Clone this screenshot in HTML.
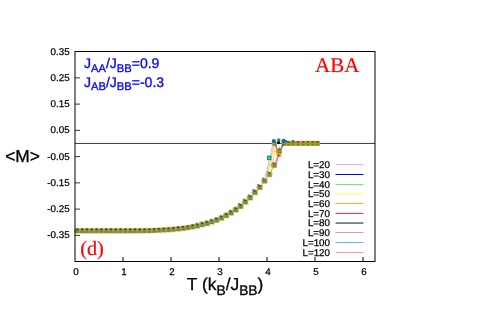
<!DOCTYPE html>
<html><head><meta charset="utf-8"><title>chart</title>
<style>
html,body{margin:0;padding:0;background:#fff;}
body{width:500px;height:314px;overflow:hidden;}
text{text-rendering:geometricPrecision;}
.t{stroke:#000;stroke-width:0.25px;}
.b{stroke:#0000ff;stroke-width:0.3px;}
.k{stroke:#000;stroke-width:0.3px;}
.r{stroke:#ff0000;stroke-width:0.2px;}
svg{display:block;font-family:"Liberation Sans",sans-serif;will-change:transform;}
</style></head><body>
<svg width="500" height="314" viewBox="0 0 500 314">
<line x1="75" y1="143.45" x2="375" y2="143.45" stroke="#3a3a3a" stroke-width="1"/>
<text x="330" y="168.10" font-size="9.8" class="t" text-anchor="end" fill="#000">L=20</text>
<line x1="335.5" y1="164.50" x2="363.5" y2="164.50" stroke="#f4a4f4" stroke-width="1"/>
<text x="330" y="177.83" font-size="9.8" class="t" text-anchor="end" fill="#000">L=30</text>
<line x1="335.5" y1="174.50" x2="363.5" y2="174.50" stroke="#0000ff" stroke-width="1"/>
<text x="330" y="187.56" font-size="9.8" class="t" text-anchor="end" fill="#000">L=40</text>
<line x1="335.5" y1="184.50" x2="363.5" y2="184.50" stroke="#6cf06c" stroke-width="1"/>
<text x="330" y="197.29" font-size="9.8" class="t" text-anchor="end" fill="#000">L=50</text>
<line x1="335.5" y1="194.00" x2="363.5" y2="194.00" stroke="#ffff50" stroke-width="1"/>
<text x="330" y="207.02" font-size="9.8" class="t" text-anchor="end" fill="#000">L=60</text>
<line x1="335.5" y1="203.50" x2="363.5" y2="203.50" stroke="#ffac28" stroke-width="1"/>
<text x="330" y="216.75" font-size="9.8" class="t" text-anchor="end" fill="#000">L=70</text>
<line x1="335.5" y1="213.40" x2="363.5" y2="213.40" stroke="#ff2020" stroke-width="1"/>
<text x="330" y="226.48" font-size="9.8" class="t" text-anchor="end" fill="#000">L=80</text>
<line x1="335.5" y1="223.05" x2="363.5" y2="223.05" stroke="#1c1c1c" stroke-width="1"/>
<text x="330" y="236.21" font-size="9.8" class="t" text-anchor="end" fill="#000">L=90</text>
<line x1="335.5" y1="232.50" x2="363.5" y2="232.50" stroke="#e896b6" stroke-width="1"/>
<text x="330" y="245.94" font-size="9.8" class="t" text-anchor="end" fill="#000">L=100</text>
<line x1="335.5" y1="242.50" x2="363.5" y2="242.50" stroke="#58bef2" stroke-width="1"/>
<text x="330" y="255.67" font-size="9.8" class="t" text-anchor="end" fill="#000">L=120</text>
<line x1="335.5" y1="252.50" x2="363.5" y2="252.50" stroke="#f09aa4" stroke-width="1"/>
<path d="M74.95 228.22H79.85M74.95 233.47H79.85" stroke="#f3d898" stroke-width="0.6" fill="none"/>
<rect x="74.95" y="228.52" width="4.9" height="4.7" fill="#b89c28"/>
<rect x="75.40" y="229.37" width="4.0" height="3.4" fill="#379c58"/>
<rect x="76.10" y="230.77" width="2.6" height="1.1" fill="#3a9a8a"/>
<ellipse cx="77.40" cy="229.17" rx="1.3" ry="0.85" fill="#26591c"/>
<path d="M74.95 228.47V233.27M79.85 228.47V233.27" stroke="#e2a412" stroke-width="0.7" fill="none"/>
<ellipse cx="74.95" cy="230.77" rx="1.1" ry="0.9" fill="#e9823c"/>
<path d="M79.75 228.22H84.65M79.75 233.47H84.65" stroke="#f3d898" stroke-width="0.6" fill="none"/>
<rect x="79.75" y="228.52" width="4.9" height="4.7" fill="#b89c28"/>
<rect x="80.20" y="229.37" width="4.0" height="3.4" fill="#379c58"/>
<rect x="80.90" y="230.77" width="2.6" height="1.1" fill="#3a9a8a"/>
<ellipse cx="82.20" cy="229.17" rx="1.3" ry="0.85" fill="#26591c"/>
<path d="M79.75 228.47V233.27M84.65 228.47V233.27" stroke="#e2a412" stroke-width="0.7" fill="none"/>
<ellipse cx="79.75" cy="230.77" rx="1.1" ry="0.9" fill="#e9823c"/>
<path d="M84.55 228.22H89.45M84.55 233.47H89.45" stroke="#f3d898" stroke-width="0.6" fill="none"/>
<rect x="84.55" y="228.52" width="4.9" height="4.7" fill="#b89c28"/>
<rect x="85.00" y="229.37" width="4.0" height="3.4" fill="#379c58"/>
<rect x="85.70" y="230.77" width="2.6" height="1.1" fill="#3a9a8a"/>
<ellipse cx="87.00" cy="229.17" rx="1.3" ry="0.85" fill="#26591c"/>
<path d="M84.55 228.47V233.27M89.45 228.47V233.27" stroke="#e2a412" stroke-width="0.7" fill="none"/>
<ellipse cx="84.55" cy="230.77" rx="1.1" ry="0.9" fill="#e9823c"/>
<path d="M89.35 228.22H94.25M89.35 233.47H94.25" stroke="#f3d898" stroke-width="0.6" fill="none"/>
<rect x="89.35" y="228.52" width="4.9" height="4.7" fill="#b89c28"/>
<rect x="89.80" y="229.37" width="4.0" height="3.4" fill="#379c58"/>
<rect x="90.50" y="230.77" width="2.6" height="1.1" fill="#3a9a8a"/>
<ellipse cx="91.80" cy="229.17" rx="1.3" ry="0.85" fill="#26591c"/>
<path d="M89.35 228.47V233.27M94.25 228.47V233.27" stroke="#e2a412" stroke-width="0.7" fill="none"/>
<ellipse cx="89.35" cy="230.77" rx="1.1" ry="0.9" fill="#e9823c"/>
<path d="M94.15 228.22H99.05M94.15 233.47H99.05" stroke="#f3d898" stroke-width="0.6" fill="none"/>
<rect x="94.15" y="228.52" width="4.9" height="4.7" fill="#b89c28"/>
<rect x="94.60" y="229.37" width="4.0" height="3.4" fill="#379c58"/>
<rect x="95.30" y="230.77" width="2.6" height="1.1" fill="#3a9a8a"/>
<ellipse cx="96.60" cy="229.17" rx="1.3" ry="0.85" fill="#26591c"/>
<path d="M94.15 228.47V233.27M99.05 228.47V233.27" stroke="#e2a412" stroke-width="0.7" fill="none"/>
<ellipse cx="94.15" cy="230.77" rx="1.1" ry="0.9" fill="#e9823c"/>
<path d="M98.95 228.22H103.85M98.95 233.47H103.85" stroke="#f3d898" stroke-width="0.6" fill="none"/>
<rect x="98.95" y="228.52" width="4.9" height="4.7" fill="#b89c28"/>
<rect x="99.40" y="229.37" width="4.0" height="3.4" fill="#379c58"/>
<rect x="100.10" y="230.77" width="2.6" height="1.1" fill="#3a9a8a"/>
<ellipse cx="101.40" cy="229.17" rx="1.3" ry="0.85" fill="#26591c"/>
<path d="M98.95 228.47V233.27M103.85 228.47V233.27" stroke="#e2a412" stroke-width="0.7" fill="none"/>
<ellipse cx="98.95" cy="230.77" rx="1.1" ry="0.9" fill="#e9823c"/>
<path d="M103.75 228.22H108.65M103.75 233.47H108.65" stroke="#f3d898" stroke-width="0.6" fill="none"/>
<rect x="103.75" y="228.52" width="4.9" height="4.7" fill="#b89c28"/>
<rect x="104.20" y="229.37" width="4.0" height="3.4" fill="#379c58"/>
<rect x="104.90" y="230.77" width="2.6" height="1.1" fill="#3a9a8a"/>
<ellipse cx="106.20" cy="229.17" rx="1.3" ry="0.85" fill="#26591c"/>
<path d="M103.75 228.47V233.27M108.65 228.47V233.27" stroke="#e2a412" stroke-width="0.7" fill="none"/>
<ellipse cx="103.75" cy="230.77" rx="1.1" ry="0.9" fill="#e9823c"/>
<path d="M108.55 228.22H113.45M108.55 233.47H113.45" stroke="#f3d898" stroke-width="0.6" fill="none"/>
<rect x="108.55" y="228.52" width="4.9" height="4.7" fill="#b89c28"/>
<rect x="109.00" y="229.37" width="4.0" height="3.4" fill="#379c58"/>
<rect x="109.70" y="230.77" width="2.6" height="1.1" fill="#3a9a8a"/>
<ellipse cx="111.00" cy="229.17" rx="1.3" ry="0.85" fill="#26591c"/>
<path d="M108.55 228.47V233.27M113.45 228.47V233.27" stroke="#e2a412" stroke-width="0.7" fill="none"/>
<ellipse cx="108.55" cy="230.77" rx="1.1" ry="0.9" fill="#e9823c"/>
<path d="M113.35 228.22H118.25M113.35 233.47H118.25" stroke="#f3d898" stroke-width="0.6" fill="none"/>
<rect x="113.35" y="228.52" width="4.9" height="4.7" fill="#b89c28"/>
<rect x="113.80" y="229.37" width="4.0" height="3.4" fill="#379c58"/>
<rect x="114.50" y="230.77" width="2.6" height="1.1" fill="#3a9a8a"/>
<ellipse cx="115.80" cy="229.17" rx="1.3" ry="0.85" fill="#26591c"/>
<path d="M113.35 228.47V233.27M118.25 228.47V233.27" stroke="#e2a412" stroke-width="0.7" fill="none"/>
<ellipse cx="113.35" cy="230.77" rx="1.1" ry="0.9" fill="#e9823c"/>
<path d="M118.15 228.22H123.05M118.15 233.47H123.05" stroke="#f3d898" stroke-width="0.6" fill="none"/>
<rect x="118.15" y="228.52" width="4.9" height="4.7" fill="#b89c28"/>
<rect x="118.60" y="229.37" width="4.0" height="3.4" fill="#379c58"/>
<rect x="119.30" y="230.77" width="2.6" height="1.1" fill="#3a9a8a"/>
<ellipse cx="120.60" cy="229.17" rx="1.3" ry="0.85" fill="#26591c"/>
<path d="M118.15 228.47V233.27M123.05 228.47V233.27" stroke="#e2a412" stroke-width="0.7" fill="none"/>
<ellipse cx="118.15" cy="230.77" rx="1.1" ry="0.9" fill="#e9823c"/>
<path d="M122.95 228.22H127.85M122.95 233.47H127.85" stroke="#f3d898" stroke-width="0.6" fill="none"/>
<rect x="122.95" y="228.52" width="4.9" height="4.7" fill="#b89c28"/>
<rect x="123.40" y="229.37" width="4.0" height="3.4" fill="#379c58"/>
<rect x="124.10" y="230.77" width="2.6" height="1.1" fill="#3a9a8a"/>
<ellipse cx="125.40" cy="229.17" rx="1.3" ry="0.85" fill="#26591c"/>
<path d="M122.95 228.47V233.27M127.85 228.47V233.27" stroke="#e2a412" stroke-width="0.7" fill="none"/>
<ellipse cx="122.95" cy="230.77" rx="1.1" ry="0.9" fill="#e9823c"/>
<path d="M127.75 228.22H132.65M127.75 233.47H132.65" stroke="#f3d898" stroke-width="0.6" fill="none"/>
<rect x="127.75" y="228.52" width="4.9" height="4.7" fill="#b89c28"/>
<rect x="128.20" y="229.37" width="4.0" height="3.4" fill="#379c58"/>
<rect x="128.90" y="230.77" width="2.6" height="1.1" fill="#3a9a8a"/>
<ellipse cx="130.20" cy="229.17" rx="1.3" ry="0.85" fill="#26591c"/>
<path d="M127.75 228.47V233.27M132.65 228.47V233.27" stroke="#e2a412" stroke-width="0.7" fill="none"/>
<ellipse cx="127.75" cy="230.77" rx="1.1" ry="0.9" fill="#e9823c"/>
<path d="M132.55 228.22H137.45M132.55 233.47H137.45" stroke="#f3d898" stroke-width="0.6" fill="none"/>
<rect x="132.55" y="228.52" width="4.9" height="4.7" fill="#b89c28"/>
<rect x="133.00" y="229.37" width="4.0" height="3.4" fill="#379c58"/>
<rect x="133.70" y="230.77" width="2.6" height="1.1" fill="#3a9a8a"/>
<ellipse cx="135.00" cy="229.17" rx="1.3" ry="0.85" fill="#26591c"/>
<path d="M132.55 228.47V233.27M137.45 228.47V233.27" stroke="#e2a412" stroke-width="0.7" fill="none"/>
<ellipse cx="132.55" cy="230.77" rx="1.1" ry="0.9" fill="#e9823c"/>
<path d="M137.35 228.18H142.25M137.35 233.43H142.25" stroke="#f3d898" stroke-width="0.6" fill="none"/>
<rect x="137.35" y="228.48" width="4.9" height="4.7" fill="#b89c28"/>
<rect x="137.80" y="229.33" width="4.0" height="3.4" fill="#379c58"/>
<rect x="138.50" y="230.73" width="2.6" height="1.1" fill="#3a9a8a"/>
<ellipse cx="139.80" cy="229.13" rx="1.3" ry="0.85" fill="#26591c"/>
<path d="M137.35 228.43V233.23M142.25 228.43V233.23" stroke="#e2a412" stroke-width="0.7" fill="none"/>
<ellipse cx="137.35" cy="230.73" rx="1.1" ry="0.9" fill="#e9823c"/>
<path d="M142.15 228.11H147.05M142.15 233.36H147.05" stroke="#f3d898" stroke-width="0.6" fill="none"/>
<rect x="142.15" y="228.41" width="4.9" height="4.7" fill="#b89c28"/>
<rect x="142.60" y="229.26" width="4.0" height="3.4" fill="#379c58"/>
<rect x="143.30" y="230.66" width="2.6" height="1.1" fill="#3a9a8a"/>
<ellipse cx="144.60" cy="229.06" rx="1.3" ry="0.85" fill="#26591c"/>
<path d="M142.15 228.36V233.16M147.05 228.36V233.16" stroke="#e2a412" stroke-width="0.7" fill="none"/>
<ellipse cx="142.15" cy="230.66" rx="1.1" ry="0.9" fill="#e9823c"/>
<path d="M146.95 228.04H151.85M146.95 233.29H151.85" stroke="#f3d898" stroke-width="0.6" fill="none"/>
<rect x="146.95" y="228.34" width="4.9" height="4.7" fill="#b89c28"/>
<rect x="147.40" y="229.19" width="4.0" height="3.4" fill="#379c58"/>
<rect x="148.10" y="230.59" width="2.6" height="1.1" fill="#3a9a8a"/>
<ellipse cx="149.40" cy="228.99" rx="1.3" ry="0.85" fill="#26591c"/>
<path d="M146.95 228.29V233.09M151.85 228.29V233.09" stroke="#e2a412" stroke-width="0.7" fill="none"/>
<ellipse cx="146.95" cy="230.59" rx="1.1" ry="0.9" fill="#e9823c"/>
<path d="M151.75 227.88H156.65M151.75 233.13H156.65" stroke="#f3d898" stroke-width="0.6" fill="none"/>
<rect x="151.75" y="228.18" width="4.9" height="4.7" fill="#b89c28"/>
<rect x="152.20" y="229.03" width="4.0" height="3.4" fill="#379c58"/>
<rect x="152.90" y="230.43" width="2.6" height="1.1" fill="#3a9a8a"/>
<ellipse cx="154.20" cy="228.83" rx="1.3" ry="0.85" fill="#26591c"/>
<path d="M151.75 228.13V232.93M156.65 228.13V232.93" stroke="#e2a412" stroke-width="0.7" fill="none"/>
<ellipse cx="151.75" cy="230.43" rx="1.1" ry="0.9" fill="#e9823c"/>
<path d="M156.55 227.62H161.45M156.55 232.87H161.45" stroke="#f3d898" stroke-width="0.6" fill="none"/>
<rect x="156.55" y="227.92" width="4.9" height="4.7" fill="#b89c28"/>
<rect x="157.00" y="228.77" width="4.0" height="3.4" fill="#379c58"/>
<rect x="157.70" y="230.17" width="2.6" height="1.1" fill="#3a9a8a"/>
<ellipse cx="159.00" cy="228.57" rx="1.3" ry="0.85" fill="#26591c"/>
<path d="M156.55 227.87V232.67M161.45 227.87V232.67" stroke="#e2a412" stroke-width="0.7" fill="none"/>
<ellipse cx="156.55" cy="230.17" rx="1.1" ry="0.9" fill="#e9823c"/>
<path d="M161.35 227.37H166.25M161.35 232.62H166.25" stroke="#f3d898" stroke-width="0.6" fill="none"/>
<rect x="161.35" y="227.67" width="4.9" height="4.7" fill="#b89c28"/>
<rect x="161.80" y="228.52" width="4.0" height="3.4" fill="#379c58"/>
<rect x="162.50" y="229.92" width="2.6" height="1.1" fill="#3a9a8a"/>
<ellipse cx="163.80" cy="228.32" rx="1.3" ry="0.85" fill="#26591c"/>
<path d="M161.35 227.62V232.42M166.25 227.62V232.42" stroke="#e2a412" stroke-width="0.7" fill="none"/>
<ellipse cx="161.35" cy="229.92" rx="1.1" ry="0.9" fill="#e9823c"/>
<path d="M166.15 227.11H171.05M166.15 232.36H171.05" stroke="#f3d898" stroke-width="0.6" fill="none"/>
<rect x="166.15" y="227.41" width="4.9" height="4.7" fill="#b89c28"/>
<rect x="166.60" y="228.26" width="4.0" height="3.4" fill="#379c58"/>
<rect x="167.30" y="229.66" width="2.6" height="1.1" fill="#3a9a8a"/>
<ellipse cx="168.60" cy="228.06" rx="1.3" ry="0.85" fill="#26591c"/>
<path d="M166.15 227.36V232.16M171.05 227.36V232.16" stroke="#e2a412" stroke-width="0.7" fill="none"/>
<ellipse cx="166.15" cy="229.66" rx="1.1" ry="0.9" fill="#e9823c"/>
<path d="M170.95 226.70H175.85M170.95 231.95H175.85" stroke="#f3d898" stroke-width="0.6" fill="none"/>
<rect x="170.95" y="227.00" width="4.9" height="4.7" fill="#b89c28"/>
<rect x="171.40" y="227.85" width="4.0" height="3.4" fill="#379c58"/>
<rect x="172.10" y="229.25" width="2.6" height="1.1" fill="#3a9a8a"/>
<ellipse cx="173.40" cy="227.65" rx="1.3" ry="0.85" fill="#26591c"/>
<path d="M170.95 226.95V231.75M175.85 226.95V231.75" stroke="#e2a412" stroke-width="0.7" fill="none"/>
<ellipse cx="170.95" cy="229.25" rx="1.1" ry="0.9" fill="#e9823c"/>
<path d="M175.75 226.23H180.65M175.75 231.48H180.65" stroke="#f3d898" stroke-width="0.6" fill="none"/>
<rect x="175.75" y="226.53" width="4.9" height="4.7" fill="#b89c28"/>
<rect x="176.20" y="227.38" width="4.0" height="3.4" fill="#379c58"/>
<rect x="176.90" y="228.78" width="2.6" height="1.1" fill="#3a9a8a"/>
<ellipse cx="178.20" cy="227.18" rx="1.3" ry="0.85" fill="#26591c"/>
<path d="M175.75 226.48V231.28M180.65 226.48V231.28" stroke="#e2a412" stroke-width="0.7" fill="none"/>
<ellipse cx="175.75" cy="228.78" rx="1.1" ry="0.9" fill="#e9823c"/>
<path d="M180.55 225.75H185.45M180.55 231.00H185.45" stroke="#f3d898" stroke-width="0.6" fill="none"/>
<rect x="180.55" y="226.05" width="4.9" height="4.7" fill="#b89c28"/>
<rect x="181.00" y="226.90" width="4.0" height="3.4" fill="#379c58"/>
<rect x="181.70" y="228.30" width="2.6" height="1.1" fill="#3a9a8a"/>
<ellipse cx="183.00" cy="226.70" rx="1.3" ry="0.85" fill="#26591c"/>
<path d="M180.55 226.00V230.80M185.45 226.00V230.80" stroke="#e2a412" stroke-width="0.7" fill="none"/>
<ellipse cx="180.55" cy="228.30" rx="1.1" ry="0.9" fill="#e9823c"/>
<path d="M185.35 225.07H190.25M185.35 230.32H190.25" stroke="#f3d898" stroke-width="0.6" fill="none"/>
<rect x="185.35" y="225.37" width="4.9" height="4.7" fill="#b89c28"/>
<rect x="185.80" y="226.22" width="4.0" height="3.4" fill="#379c58"/>
<rect x="186.50" y="227.62" width="2.6" height="1.1" fill="#3a9a8a"/>
<ellipse cx="187.80" cy="226.02" rx="1.3" ry="0.85" fill="#26591c"/>
<path d="M185.35 225.32V230.12M190.25 225.32V230.12" stroke="#e2a412" stroke-width="0.7" fill="none"/>
<ellipse cx="185.35" cy="227.62" rx="1.1" ry="0.9" fill="#e9823c"/>
<path d="M190.15 224.17H195.05M190.15 229.42H195.05" stroke="#f3d898" stroke-width="0.6" fill="none"/>
<rect x="190.15" y="224.47" width="4.9" height="4.7" fill="#b89c28"/>
<rect x="190.60" y="225.32" width="4.0" height="3.4" fill="#379c58"/>
<rect x="191.30" y="226.72" width="2.6" height="1.1" fill="#3a9a8a"/>
<ellipse cx="192.60" cy="225.12" rx="1.3" ry="0.85" fill="#26591c"/>
<path d="M190.15 224.42V229.22M195.05 224.42V229.22" stroke="#e2a412" stroke-width="0.7" fill="none"/>
<ellipse cx="190.15" cy="226.72" rx="1.1" ry="0.9" fill="#e9823c"/>
<path d="M194.95 223.28H199.85M194.95 228.53H199.85" stroke="#f3d898" stroke-width="0.6" fill="none"/>
<rect x="194.95" y="223.58" width="4.9" height="4.7" fill="#b89c28"/>
<rect x="195.40" y="224.43" width="4.0" height="3.4" fill="#379c58"/>
<rect x="196.10" y="225.83" width="2.6" height="1.1" fill="#3a9a8a"/>
<ellipse cx="197.40" cy="224.23" rx="1.3" ry="0.85" fill="#26591c"/>
<path d="M194.95 223.53V228.33M199.85 223.53V228.33" stroke="#e2a412" stroke-width="0.7" fill="none"/>
<ellipse cx="194.95" cy="225.83" rx="1.1" ry="0.9" fill="#e9823c"/>
<path d="M199.75 221.97H204.65M199.75 227.22H204.65" stroke="#f3d898" stroke-width="0.6" fill="none"/>
<rect x="199.75" y="222.27" width="4.9" height="4.7" fill="#b89c28"/>
<rect x="200.20" y="223.12" width="4.0" height="3.4" fill="#379c58"/>
<rect x="200.90" y="224.52" width="2.6" height="1.1" fill="#3a9a8a"/>
<ellipse cx="202.20" cy="222.92" rx="1.3" ry="0.85" fill="#26591c"/>
<path d="M199.75 222.22V227.02M204.65 222.22V227.02" stroke="#e2a412" stroke-width="0.7" fill="none"/>
<ellipse cx="199.75" cy="224.52" rx="1.1" ry="0.9" fill="#e9823c"/>
<path d="M204.55 220.84H209.45M204.55 226.09H209.45" stroke="#f3d898" stroke-width="0.6" fill="none"/>
<rect x="204.55" y="221.14" width="4.9" height="4.7" fill="#b89c28"/>
<rect x="205.00" y="221.99" width="4.0" height="3.4" fill="#379c58"/>
<rect x="205.70" y="223.39" width="2.6" height="1.1" fill="#3a9a8a"/>
<ellipse cx="207.00" cy="221.79" rx="1.3" ry="0.85" fill="#26591c"/>
<path d="M204.55 221.09V225.89M209.45 221.09V225.89" stroke="#e2a412" stroke-width="0.7" fill="none"/>
<ellipse cx="204.55" cy="223.39" rx="1.1" ry="0.9" fill="#e9823c"/>
<path d="M209.35 219.29H214.25M209.35 224.54H214.25" stroke="#f3d898" stroke-width="0.6" fill="none"/>
<rect x="209.35" y="219.59" width="4.9" height="4.7" fill="#b89c28"/>
<rect x="209.80" y="220.44" width="4.0" height="3.4" fill="#379c58"/>
<rect x="210.50" y="221.84" width="2.6" height="1.1" fill="#3a9a8a"/>
<ellipse cx="211.80" cy="220.24" rx="1.3" ry="0.85" fill="#26591c"/>
<path d="M209.35 219.54V224.34M214.25 219.54V224.34" stroke="#e2a412" stroke-width="0.7" fill="none"/>
<ellipse cx="209.35" cy="221.84" rx="1.1" ry="0.9" fill="#e9823c"/>
<path d="M214.15 217.56H219.05M214.15 222.81H219.05" stroke="#f3d898" stroke-width="0.6" fill="none"/>
<rect x="214.15" y="217.86" width="4.9" height="4.7" fill="#b89c28"/>
<rect x="214.60" y="218.71" width="4.0" height="3.4" fill="#379c58"/>
<rect x="215.30" y="220.11" width="2.6" height="1.1" fill="#3a9a8a"/>
<ellipse cx="216.60" cy="218.51" rx="1.3" ry="0.85" fill="#26591c"/>
<path d="M214.15 217.81V222.61M219.05 217.81V222.61" stroke="#e2a412" stroke-width="0.7" fill="none"/>
<ellipse cx="214.15" cy="220.11" rx="1.1" ry="0.9" fill="#e9823c"/>
<path d="M218.95 215.54H223.85M218.95 220.79H223.85" stroke="#f3d898" stroke-width="0.6" fill="none"/>
<rect x="218.95" y="215.84" width="4.9" height="4.7" fill="#b89c28"/>
<rect x="219.40" y="216.69" width="4.0" height="3.4" fill="#379c58"/>
<rect x="220.10" y="218.09" width="2.6" height="1.1" fill="#3a9a8a"/>
<ellipse cx="221.40" cy="216.49" rx="1.3" ry="0.85" fill="#26591c"/>
<path d="M218.95 215.79V220.59M223.85 215.79V220.59" stroke="#e2a412" stroke-width="0.7" fill="none"/>
<ellipse cx="218.95" cy="218.09" rx="1.1" ry="0.9" fill="#e9823c"/>
<path d="M223.75 212.97H228.65M223.75 218.22H228.65" stroke="#f3d898" stroke-width="0.6" fill="none"/>
<rect x="223.75" y="213.27" width="4.9" height="4.7" fill="#b89c28"/>
<rect x="224.20" y="214.12" width="4.0" height="3.4" fill="#379c58"/>
<rect x="224.90" y="215.52" width="2.6" height="1.1" fill="#3a9a8a"/>
<ellipse cx="226.20" cy="213.92" rx="1.3" ry="0.85" fill="#26591c"/>
<path d="M223.75 213.22V218.02M228.65 213.22V218.02" stroke="#e2a412" stroke-width="0.7" fill="none"/>
<ellipse cx="223.75" cy="215.52" rx="1.1" ry="0.9" fill="#e9823c"/>
<path d="M228.55 210.34H233.45M228.55 215.59H233.45" stroke="#f3d898" stroke-width="0.6" fill="none"/>
<rect x="228.55" y="210.64" width="4.9" height="4.7" fill="#b89c28"/>
<rect x="229.00" y="211.49" width="4.0" height="3.4" fill="#379c58"/>
<rect x="229.70" y="212.89" width="2.6" height="1.1" fill="#3a9a8a"/>
<ellipse cx="231.00" cy="211.29" rx="1.3" ry="0.85" fill="#26591c"/>
<path d="M228.55 210.59V215.39M233.45 210.59V215.39" stroke="#e2a412" stroke-width="0.7" fill="none"/>
<ellipse cx="228.55" cy="212.89" rx="1.1" ry="0.9" fill="#e9823c"/>
<path d="M233.35 207.27H238.25M233.35 212.52H238.25" stroke="#f3d898" stroke-width="0.6" fill="none"/>
<rect x="233.35" y="207.57" width="4.9" height="4.7" fill="#b89c28"/>
<rect x="233.80" y="208.42" width="4.0" height="3.4" fill="#379c58"/>
<rect x="234.50" y="209.82" width="2.6" height="1.1" fill="#3a9a8a"/>
<ellipse cx="235.80" cy="208.22" rx="1.3" ry="0.85" fill="#26591c"/>
<path d="M233.35 207.52V212.32M238.25 207.52V212.32" stroke="#e2a412" stroke-width="0.7" fill="none"/>
<ellipse cx="233.35" cy="209.82" rx="1.1" ry="0.9" fill="#e9823c"/>
<path d="M238.15 203.72H243.05M238.15 208.97H243.05" stroke="#f3d898" stroke-width="0.6" fill="none"/>
<rect x="238.15" y="204.03" width="4.9" height="4.7" fill="#b89c28"/>
<rect x="238.60" y="204.88" width="4.0" height="3.4" fill="#379c58"/>
<rect x="239.30" y="206.28" width="2.6" height="1.1" fill="#3a9a8a"/>
<ellipse cx="240.60" cy="204.68" rx="1.3" ry="0.85" fill="#26591c"/>
<path d="M238.15 203.97V208.78M243.05 203.97V208.78" stroke="#e2a412" stroke-width="0.7" fill="none"/>
<ellipse cx="238.15" cy="206.28" rx="1.1" ry="0.9" fill="#e9823c"/>
<path d="M242.95 199.34H247.85M242.95 204.59H247.85" stroke="#f3d898" stroke-width="0.6" fill="none"/>
<rect x="242.95" y="199.64" width="4.9" height="4.7" fill="#b89c28"/>
<rect x="243.40" y="200.49" width="4.0" height="3.4" fill="#379c58"/>
<rect x="244.10" y="201.89" width="2.6" height="1.1" fill="#3a9a8a"/>
<ellipse cx="245.40" cy="200.29" rx="1.3" ry="0.85" fill="#26591c"/>
<path d="M242.95 199.59V204.39M247.85 199.59V204.39" stroke="#e2a412" stroke-width="0.7" fill="none"/>
<ellipse cx="242.95" cy="201.89" rx="1.1" ry="0.9" fill="#e9823c"/>
<path d="M247.75 195.17H252.65M247.75 200.42H252.65" stroke="#f3d898" stroke-width="0.6" fill="none"/>
<rect x="247.75" y="195.47" width="4.9" height="4.7" fill="#b89c28"/>
<rect x="248.20" y="196.32" width="4.0" height="3.4" fill="#379c58"/>
<rect x="248.90" y="197.72" width="2.6" height="1.1" fill="#3a9a8a"/>
<ellipse cx="250.20" cy="196.12" rx="1.3" ry="0.85" fill="#26591c"/>
<path d="M247.75 195.42V200.22M252.65 195.42V200.22" stroke="#e2a412" stroke-width="0.7" fill="none"/>
<ellipse cx="247.75" cy="197.72" rx="1.1" ry="0.9" fill="#e9823c"/>
<path d="M252.55 189.79H257.45M252.55 195.04H257.45" stroke="#f3d898" stroke-width="0.6" fill="none"/>
<rect x="252.55" y="190.09" width="4.9" height="4.7" fill="#b89c28"/>
<rect x="253.00" y="190.94" width="4.0" height="3.4" fill="#379c58"/>
<rect x="253.70" y="192.34" width="2.6" height="1.1" fill="#3a9a8a"/>
<ellipse cx="255.00" cy="190.74" rx="1.3" ry="0.85" fill="#26591c"/>
<path d="M252.55 190.04V194.84M257.45 190.04V194.84" stroke="#e2a412" stroke-width="0.7" fill="none"/>
<ellipse cx="252.55" cy="192.34" rx="1.1" ry="0.9" fill="#e9823c"/>
<path d="M257.35 184.75H262.25M257.35 190.00H262.25" stroke="#f3d898" stroke-width="0.6" fill="none"/>
<rect x="257.35" y="185.05" width="4.9" height="4.7" fill="#b89c28"/>
<rect x="257.80" y="185.90" width="4.0" height="3.4" fill="#379c58"/>
<rect x="258.50" y="187.30" width="2.6" height="1.1" fill="#3a9a8a"/>
<ellipse cx="259.80" cy="185.70" rx="1.3" ry="0.85" fill="#26591c"/>
<path d="M257.35 185.00V189.80M262.25 185.00V189.80" stroke="#e2a412" stroke-width="0.7" fill="none"/>
<ellipse cx="257.35" cy="187.30" rx="1.1" ry="0.9" fill="#e9823c"/>
<path d="M262.15 178.39H267.05M262.15 183.64H267.05" stroke="#f3d898" stroke-width="0.6" fill="none"/>
<rect x="262.15" y="178.69" width="4.9" height="4.7" fill="#b89c28"/>
<rect x="262.60" y="179.54" width="4.0" height="3.4" fill="#379c58"/>
<rect x="263.30" y="180.94" width="2.6" height="1.1" fill="#3a9a8a"/>
<ellipse cx="264.60" cy="179.34" rx="1.3" ry="0.85" fill="#26591c"/>
<path d="M262.15 178.64V183.44M267.05 178.64V183.44" stroke="#e2a412" stroke-width="0.7" fill="none"/>
<ellipse cx="262.15" cy="180.94" rx="1.1" ry="0.9" fill="#e9823c"/>
<path d="M266.95 171.86H271.85M266.95 177.11H271.85" stroke="#f3d898" stroke-width="0.6" fill="none"/>
<rect x="266.95" y="172.16" width="4.9" height="4.7" fill="#b89c28"/>
<rect x="267.40" y="173.01" width="4.0" height="3.4" fill="#379c58"/>
<rect x="268.10" y="174.41" width="2.6" height="1.1" fill="#3a9a8a"/>
<ellipse cx="269.40" cy="172.81" rx="1.3" ry="0.85" fill="#26591c"/>
<path d="M266.95 172.11V176.91M271.85 172.11V176.91" stroke="#e2a412" stroke-width="0.7" fill="none"/>
<ellipse cx="266.95" cy="174.41" rx="1.1" ry="0.9" fill="#e9823c"/>
<path d="M271.75 162.64H276.65M271.75 167.89H276.65" stroke="#f3d898" stroke-width="0.6" fill="none"/>
<rect x="271.75" y="162.94" width="4.9" height="4.7" fill="#b89c28"/>
<rect x="272.20" y="163.79" width="4.0" height="3.4" fill="#379c58"/>
<rect x="272.90" y="165.19" width="2.6" height="1.1" fill="#3a9a8a"/>
<ellipse cx="274.20" cy="163.59" rx="1.3" ry="0.85" fill="#26591c"/>
<path d="M271.75 162.89V167.69M276.65 162.89V167.69" stroke="#e2a412" stroke-width="0.7" fill="none"/>
<ellipse cx="271.75" cy="165.19" rx="1.1" ry="0.9" fill="#e9823c"/>
<path d="M276.55 148.60H281.45M276.55 153.85H281.45" stroke="#f3d898" stroke-width="0.6" fill="none"/>
<rect x="276.55" y="148.90" width="4.9" height="4.7" fill="#b89c28"/>
<rect x="277.00" y="149.75" width="4.0" height="3.4" fill="#379c58"/>
<rect x="277.70" y="151.15" width="2.6" height="1.1" fill="#3a9a8a"/>
<ellipse cx="279.00" cy="149.55" rx="1.3" ry="0.85" fill="#26591c"/>
<path d="M276.55 148.85V153.65M281.45 148.85V153.65" stroke="#e2a412" stroke-width="0.7" fill="none"/>
<ellipse cx="276.55" cy="151.15" rx="1.1" ry="0.9" fill="#e9823c"/>
<rect x="281.35" y="140.78" width="4.9" height="5.2" fill="#e0a416"/>
<rect x="281.80" y="141.38" width="4.0" height="4.0" fill="#8e9c26"/>
<rect x="282.20" y="141.47" width="3.2" height="1.2" fill="#2b8a38"/>
<rect x="282.90" y="141.57" width="1.8" height="0.8" fill="#1a6428"/>
<rect x="282.20" y="144.07" width="3.2" height="1.1" fill="#3f9c3f"/>
<rect x="281.35" y="142.97" width="4.9" height="0.8" fill="#e8823a" fill-opacity="0.9"/>
<rect x="286.15" y="140.78" width="4.9" height="5.2" fill="#e0a416"/>
<rect x="286.60" y="141.38" width="4.0" height="4.0" fill="#8e9c26"/>
<rect x="287.00" y="141.47" width="3.2" height="1.2" fill="#2b8a38"/>
<rect x="287.70" y="141.57" width="1.8" height="0.8" fill="#1a6428"/>
<rect x="287.00" y="144.07" width="3.2" height="1.1" fill="#3f9c3f"/>
<rect x="286.15" y="142.97" width="4.9" height="0.8" fill="#e8823a" fill-opacity="0.9"/>
<rect x="290.95" y="140.78" width="4.9" height="5.2" fill="#e0a416"/>
<rect x="291.40" y="141.38" width="4.0" height="4.0" fill="#8e9c26"/>
<rect x="291.80" y="141.47" width="3.2" height="1.2" fill="#2b8a38"/>
<rect x="292.50" y="141.57" width="1.8" height="0.8" fill="#1a6428"/>
<rect x="291.80" y="144.07" width="3.2" height="1.1" fill="#3f9c3f"/>
<rect x="290.95" y="142.97" width="4.9" height="0.8" fill="#e8823a" fill-opacity="0.9"/>
<rect x="295.75" y="140.78" width="4.9" height="5.2" fill="#e0a416"/>
<rect x="296.20" y="141.38" width="4.0" height="4.0" fill="#8e9c26"/>
<rect x="296.60" y="141.47" width="3.2" height="1.2" fill="#2b8a38"/>
<rect x="297.30" y="141.57" width="1.8" height="0.8" fill="#1a6428"/>
<rect x="296.60" y="144.07" width="3.2" height="1.1" fill="#3f9c3f"/>
<rect x="295.75" y="142.97" width="4.9" height="0.8" fill="#e8823a" fill-opacity="0.9"/>
<rect x="300.55" y="140.78" width="4.9" height="5.2" fill="#e0a416"/>
<rect x="301.00" y="141.38" width="4.0" height="4.0" fill="#8e9c26"/>
<rect x="301.40" y="141.47" width="3.2" height="1.2" fill="#2b8a38"/>
<rect x="302.10" y="141.57" width="1.8" height="0.8" fill="#1a6428"/>
<rect x="301.40" y="144.07" width="3.2" height="1.1" fill="#3f9c3f"/>
<rect x="300.55" y="142.97" width="4.9" height="0.8" fill="#e8823a" fill-opacity="0.9"/>
<rect x="305.35" y="140.78" width="4.9" height="5.2" fill="#e0a416"/>
<rect x="305.80" y="141.38" width="4.0" height="4.0" fill="#8e9c26"/>
<rect x="306.20" y="141.47" width="3.2" height="1.2" fill="#2b8a38"/>
<rect x="306.90" y="141.57" width="1.8" height="0.8" fill="#1a6428"/>
<rect x="306.20" y="144.07" width="3.2" height="1.1" fill="#3f9c3f"/>
<rect x="305.35" y="142.97" width="4.9" height="0.8" fill="#e8823a" fill-opacity="0.9"/>
<rect x="310.15" y="140.78" width="4.9" height="5.2" fill="#e0a416"/>
<rect x="310.60" y="141.38" width="4.0" height="4.0" fill="#8e9c26"/>
<rect x="311.00" y="141.47" width="3.2" height="1.2" fill="#2b8a38"/>
<rect x="311.70" y="141.57" width="1.8" height="0.8" fill="#1a6428"/>
<rect x="311.00" y="144.07" width="3.2" height="1.1" fill="#3f9c3f"/>
<rect x="310.15" y="142.97" width="4.9" height="0.8" fill="#e8823a" fill-opacity="0.9"/>
<rect x="314.95" y="140.78" width="4.9" height="5.2" fill="#e0a416"/>
<rect x="315.40" y="141.38" width="4.0" height="4.0" fill="#8e9c26"/>
<rect x="315.80" y="141.47" width="3.2" height="1.2" fill="#2b8a38"/>
<rect x="316.50" y="141.57" width="1.8" height="0.8" fill="#1a6428"/>
<rect x="315.80" y="144.07" width="3.2" height="1.1" fill="#3f9c3f"/>
<rect x="314.95" y="142.97" width="4.9" height="0.8" fill="#e8823a" fill-opacity="0.9"/>
<circle cx="196.70" cy="223.43" r="0.9" fill="#1a9a78" fill-opacity="0.85"/>
<circle cx="201.50" cy="222.12" r="0.9" fill="#1a9a78" fill-opacity="0.85"/>
<circle cx="206.30" cy="220.99" r="0.9" fill="#1a9a78" fill-opacity="0.85"/>
<circle cx="211.10" cy="219.44" r="0.9" fill="#1a9a78" fill-opacity="0.85"/>
<circle cx="215.90" cy="217.71" r="0.9" fill="#1a9a78" fill-opacity="0.85"/>
<circle cx="220.70" cy="215.69" r="0.9" fill="#1a9a78" fill-opacity="0.85"/>
<circle cx="225.50" cy="213.12" r="0.9" fill="#1a9a78" fill-opacity="0.85"/>
<circle cx="230.30" cy="210.49" r="0.9" fill="#1a9a78" fill-opacity="0.85"/>
<circle cx="235.10" cy="207.42" r="0.9" fill="#1a9a78" fill-opacity="0.85"/>
<circle cx="239.00" cy="203.78" r="1.0" fill="#1a9a78" fill-opacity="0.9"/>
<circle cx="243.80" cy="199.39" r="1.0" fill="#1a9a78" fill-opacity="0.9"/>
<circle cx="248.60" cy="195.22" r="1.0" fill="#1a9a78" fill-opacity="0.9"/>
<circle cx="253.40" cy="189.84" r="1.0" fill="#1a9a78" fill-opacity="0.9"/>
<circle cx="258.20" cy="184.80" r="1.0" fill="#1a9a78" fill-opacity="0.9"/>
<circle cx="263.00" cy="178.44" r="1.0" fill="#1a9a78" fill-opacity="0.9"/>
<circle cx="267.80" cy="171.91" r="1.0" fill="#1a9a78" fill-opacity="0.9"/>
<circle cx="272.60" cy="162.69" r="1.0" fill="#1a9a78" fill-opacity="0.9"/>
<rect x="271.75" y="140.78" width="4.9" height="5.2" fill="#e0a416"/>
<rect x="272.20" y="141.38" width="4.0" height="4.0" fill="#8e9c26"/>
<rect x="272.60" y="141.47" width="3.2" height="1.2" fill="#2b8a38"/>
<rect x="273.30" y="141.57" width="1.8" height="0.8" fill="#1a6428"/>
<rect x="272.60" y="144.07" width="3.2" height="1.1" fill="#3f9c3f"/>
<rect x="271.75" y="142.97" width="4.9" height="0.8" fill="#e8823a" fill-opacity="0.9"/>
<polyline points="77.40,230.87 82.20,230.87 87.00,230.87 91.80,230.87 96.60,230.87 101.40,230.87 106.20,230.87 111.00,230.87 115.80,230.87 120.60,230.87 125.40,230.87 130.20,230.87 135.00,230.87 139.80,230.83 144.60,230.76 149.40,230.69 154.20,230.53 159.00,230.27 163.80,230.02 168.60,229.76 173.40,229.35 178.20,228.88 183.00,228.40 187.80,227.72 192.60,226.82 197.40,225.93 202.20,224.62 207.00,223.49 211.80,221.94 216.60,220.21 221.40,218.19 226.20,215.62 231.00,212.99 235.80,209.92 240.60,206.38 245.40,201.99 250.20,197.82 255.00,192.44 259.80,187.40 264.60,181.04 269.40,174.51 274.20,165.29 279.00,151.25 283.80,143.38 288.60,143.38 293.40,143.38 298.20,143.38 303.00,143.38 307.80,143.38 312.60,143.38 317.40,143.38" fill="none" stroke="#e86a50" stroke-width="0.8" stroke-opacity="0.7"/>
<polyline points="264.6,180 269.4,159 273.0,144.2 274.4,143.4" fill="none" stroke="#ee82ee" stroke-width="0.75" stroke-opacity="1"/>
<polyline points="266.7,177.8 273.9,145" fill="none" stroke="#b8dc28" stroke-width="0.8" stroke-opacity="1"/>
<polyline points="269.4,170 274.5,146" fill="none" stroke="#ffe040" stroke-width="0.7" stroke-opacity="0.8"/>
<polyline points="270.7,176 275.5,146" fill="none" stroke="#ffa500" stroke-width="0.7" stroke-opacity="0.85"/>
<polyline points="276.3,164 279.5,146.7" fill="none" stroke="#5060ff" stroke-width="0.6" stroke-opacity="1"/>
<polyline points="274.7,168 281.8,146" fill="none" stroke="#f06070" stroke-width="0.7" stroke-opacity="1"/>
<polyline points="275.3,144.6 277.2,149.2 279.2,152.4 281,149.2 282.7,146 283.6,143.8" fill="none" stroke="#0000ff" stroke-width="0.8" stroke-opacity="0.85"/>
<rect x="266.9" y="155.6" width="4.6" height="4.6" fill="#10a078"/>
<rect x="268.4" y="157" width="1.6" height="1.8" fill="#7fd0b0"/>
<rect x="276.95" y="148.40" width="4.9" height="5.2" fill="#e0a416"/>
<rect x="277.40" y="149.00" width="4.0" height="4.0" fill="#8e9c26"/>
<rect x="277.80" y="149.10" width="3.2" height="1.2" fill="#2b8a38"/>
<rect x="278.50" y="149.20" width="1.8" height="0.8" fill="#1a6428"/>
<rect x="277.80" y="151.70" width="3.2" height="1.1" fill="#3f9c3f"/>
<rect x="276.95" y="150.60" width="4.9" height="0.8" fill="#e8823a" fill-opacity="0.9"/>
<circle cx="278.9" cy="155.3" r="2.3" fill="#e69f00"/>
<circle cx="278.6" cy="155.3" r="0.9" fill="#9030c0"/>
<circle cx="273.8" cy="140.9" r="2.0" fill="#0072b2"/>
<circle cx="283.5" cy="140.7" r="2.0" fill="#0072b2"/>
<circle cx="278.7" cy="140.0" r="1.8" fill="#009e73"/>
<circle cx="293" cy="141.0" r="1.2" fill="#009e73"/>
<circle cx="286" cy="141.2" r="1.3" fill="#0072b2"/>
<circle cx="278.6" cy="142.6" r="1.5" fill="#000"/>
<rect x="75" y="51.5" width="300" height="210" fill="none" stroke="#000" stroke-width="1"/>
<text x="75.9" y="274.5" font-size="9.8" class="t" text-anchor="middle">0</text>
<line x1="123.0" y1="261" x2="123.0" y2="257" stroke="#000" stroke-width="1"/>
<text x="123.9" y="274.5" font-size="9.8" class="t" text-anchor="middle">1</text>
<line x1="171.0" y1="261" x2="171.0" y2="257" stroke="#000" stroke-width="1"/>
<text x="171.9" y="274.5" font-size="9.8" class="t" text-anchor="middle">2</text>
<line x1="219.0" y1="261" x2="219.0" y2="257" stroke="#000" stroke-width="1"/>
<text x="219.9" y="274.5" font-size="9.8" class="t" text-anchor="middle">3</text>
<line x1="267.0" y1="261" x2="267.0" y2="257" stroke="#000" stroke-width="1"/>
<text x="267.9" y="274.5" font-size="9.8" class="t" text-anchor="middle">4</text>
<line x1="315.0" y1="261" x2="315.0" y2="257" stroke="#000" stroke-width="1"/>
<text x="315.9" y="274.5" font-size="9.8" class="t" text-anchor="middle">5</text>
<line x1="363.0" y1="261" x2="363.0" y2="257" stroke="#000" stroke-width="1"/>
<text x="363.9" y="274.5" font-size="9.8" class="t" text-anchor="middle">6</text>
<text x="69.6" y="54.65" font-size="9.8" class="t" text-anchor="end">0.35</text>
<line x1="75" y1="77.85" x2="80" y2="77.85" stroke="#000" stroke-width="0.8"/>
<text x="69.6" y="80.90" font-size="9.8" class="t" text-anchor="end">0.25</text>
<line x1="75" y1="104.1" x2="80" y2="104.1" stroke="#000" stroke-width="0.8"/>
<text x="69.6" y="107.15" font-size="9.8" class="t" text-anchor="end">0.15</text>
<line x1="75" y1="130.35" x2="80" y2="130.35" stroke="#000" stroke-width="0.8"/>
<text x="69.6" y="133.40" font-size="9.8" class="t" text-anchor="end">0.05</text>
<line x1="75" y1="156.6" x2="80" y2="156.6" stroke="#000" stroke-width="0.8"/>
<text x="69.6" y="159.65" font-size="9.8" class="t" text-anchor="end">-0.05</text>
<line x1="75" y1="182.85" x2="80" y2="182.85" stroke="#000" stroke-width="0.8"/>
<text x="69.6" y="185.90" font-size="9.8" class="t" text-anchor="end">-0.15</text>
<line x1="75" y1="209.1" x2="80" y2="209.1" stroke="#000" stroke-width="0.8"/>
<text x="69.6" y="212.15" font-size="9.8" class="t" text-anchor="end">-0.25</text>
<line x1="75" y1="235.35" x2="80" y2="235.35" stroke="#000" stroke-width="0.8"/>
<text x="69.6" y="238.40" font-size="9.8" class="t" text-anchor="end">-0.35</text>
<text x="5.2" y="162.3" font-size="17.4" class="k">&lt;M&gt;</text>
<text x="186.8" y="289.6" font-size="17.4" class="k">T (k<tspan font-size="13.8" dy="5">B</tspan><tspan dy="-5">/J</tspan><tspan font-size="13.8" dy="5">BB</tspan><tspan dy="-5">)</tspan></text>
<text x="84" y="68" font-size="14" class="b" fill="#0000ff">J<tspan font-size="11.2" dy="3.7">AA</tspan><tspan dy="-3.7">/J</tspan><tspan font-size="11.2" dy="3.7">BB</tspan><tspan dy="-3.7">=0.9</tspan></text>
<text x="84" y="86.5" font-size="14" class="b" fill="#0000ff">J<tspan font-size="11.2" dy="3.7">AB</tspan><tspan dy="-3.7">/J</tspan><tspan font-size="11.2" dy="3.7">BB</tspan><tspan dy="-3.7">=-0.3</tspan></text>
<text x="315" y="71.6" font-size="21" class="r" fill="#ff0000" font-family="Liberation Serif, serif">ABA</text>
<text x="80.2" y="255.4" font-size="20.3" class="r" fill="#ff0000" font-family="Liberation Serif, serif">(d)</text>
</svg>
</body></html>
